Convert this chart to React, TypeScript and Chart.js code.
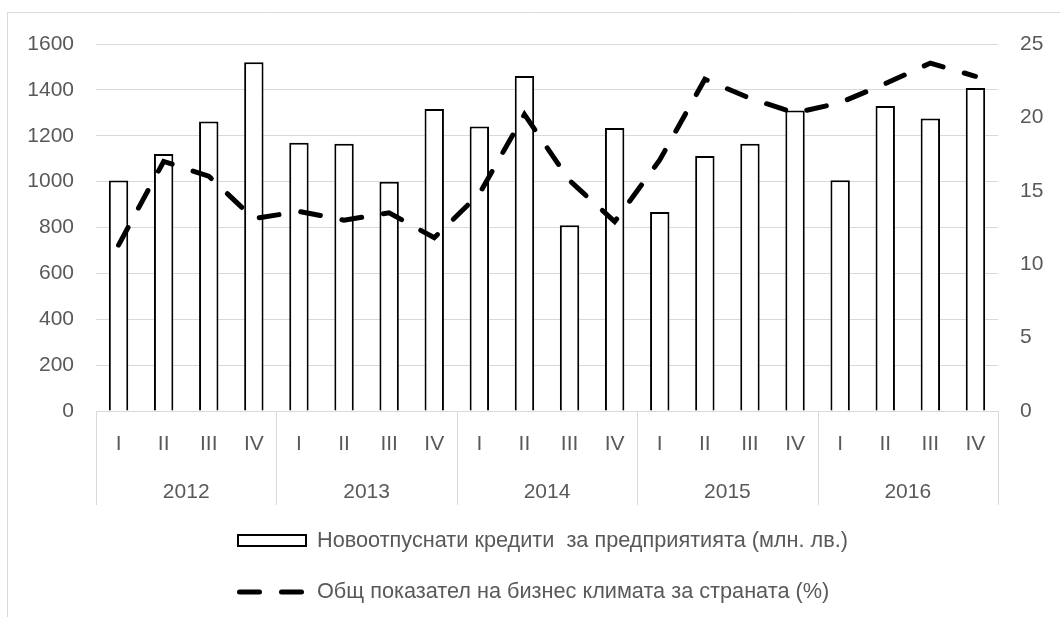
import React, { useEffect, useRef } from "react";
import { Chart, registerables } from "chart.js";

Chart.register(...registerables);

const quarters = ["I", "II", "III", "IV", "I", "II", "III", "IV", "I", "II", "III", "IV", "I", "II", "III", "IV", "I", "II", "III", "IV"];
const years = ["2012", "2013", "2014", "2015", "2016"];
const credits = [1005, 1120, 1262, 1520, 1170, 1165, 1000, 1317, 1240, 1460, 810, 1234, 868, 1112, 1165, 1310, 1006, 1330, 1275, 1408];
const climate = [11.3, 17.0, 16.0, 13.1, 13.6, 13.0, 13.5, 11.8, 14.8, 20.2, 15.7, 12.9, 17.1, 22.6, 21.3, 20.3, 21.0, 22.3, 23.7, 22.8];
const creditsLabel = "Новоотпуснати кредити  за предприятията (млн. лв.)";
const climateLabel = "Общ показател на бизнес климата за страната (%)";

const FONT = "'Liberation Sans', Arial, sans-serif";
const TEXT = "#595959";
const GRID = "#d9d9d9";

const decor = {
  id: "decor",
  beforeDraw(chart: any) {
    const ctx = chart.ctx;
    ctx.save();
    ctx.fillStyle = "#ffffff";
    ctx.fillRect(0, 0, chart.width, chart.height);
    ctx.strokeStyle = GRID;
    ctx.lineWidth = 1;
    ctx.beginPath();
    ctx.moveTo(7.5, chart.height);
    ctx.lineTo(7.5, 12.5);
    ctx.lineTo(chart.width, 12.5);
    ctx.stroke();
    ctx.restore();
  },
  afterDraw(chart: any) {
    const ctx = chart.ctx;
    const x = chart.scales.x;
    const area = chart.chartArea;
    const half = (x.getPixelForValue(1) - x.getPixelForValue(0)) / 2;
    ctx.save();
    ctx.strokeStyle = GRID;
    ctx.lineWidth = 1;
    const bounds: number[] = [];
    for (let k = 0; k <= years.length; k++) {
      const px = k < years.length ? x.getPixelForValue(k * 4) - half : area.right;
      bounds.push(px);
      const rx = Math.round(px) + 0.5;
      ctx.beginPath();
      ctx.moveTo(rx, area.bottom);
      ctx.lineTo(rx, area.bottom + 94);
      ctx.stroke();
    }
    ctx.fillStyle = TEXT;
    ctx.font = `21px ${FONT}`;
    ctx.textAlign = "center";
    ctx.textBaseline = "middle";
    years.forEach((y, i) => {
      ctx.fillText(y, (bounds[i] + bounds[i + 1]) / 2, area.bottom + 81);
    });
    // legend
    ctx.fillStyle = "#ffffff";
    ctx.strokeStyle = "#000000";
    ctx.lineWidth = 2;
    ctx.fillRect(238, 535, 68, 11);
    ctx.strokeRect(238, 535, 68, 11);
    ctx.beginPath();
    ctx.lineWidth = 5;
    ctx.lineCap = "round";
    ctx.setLineDash([20, 22]);
    ctx.moveTo(239.5, 592);
    ctx.lineTo(304.5, 592);
    ctx.stroke();
    ctx.setLineDash([]);
    ctx.fillStyle = TEXT;
    ctx.textAlign = "left";
    ctx.font = `21.7px ${FONT}`;
    ctx.fillText(creditsLabel, 317, 541);
    ctx.fillText(climateLabel, 317, 592);
    ctx.restore();
  },
};

export default function App() {
  const ref = useRef<HTMLCanvasElement>(null);
  useEffect(() => {
    if (!ref.current) return;
    const plain = (v: any) => String(v);
    const chart = new Chart(ref.current, {
      type: "bar",
      data: {
        labels: quarters,
        datasets: [
          {
            type: "line",
            label: climateLabel,
            data: climate,
            yAxisID: "y1",
            borderColor: "#000000",
            borderWidth: 5,
            borderDash: [20, 22],
            borderCapStyle: "round",
            pointRadius: 0,
            tension: 0,
            fill: false,
            order: 0,
          } as any,
          {
            type: "bar",
            label: creditsLabel,
            data: credits,
            yAxisID: "y",
            backgroundColor: "#ffffff",
            borderColor: "#000000",
            borderWidth: 2,
            barPercentage: 0.43,
            categoryPercentage: 1,
            order: 1,
          },
        ],
      },
      options: {
        responsive: false,
        animation: false,
        devicePixelRatio: 1,
        layout: { padding: { top: 44, left: 0, right: 0, bottom: 0 } },
        plugins: { legend: { display: false }, tooltip: { enabled: false } },
        scales: {
          x: {
            type: "category",
            offset: true,
            grid: { display: false, drawTicks: false },
            border: { display: true, color: GRID, width: 1 },
            ticks: { color: TEXT, font: { family: FONT, size: 21 }, padding: 21, maxRotation: 0, autoSkip: false },
            afterFit(s: any) {
              s.height = 206;
            },
          },
          y: {
            position: "left",
            min: 0,
            max: 1600,
            ticks: { stepSize: 200, color: TEXT, font: { family: FONT, size: 21 }, padding: 22, callback: plain },
            grid: { color: GRID, lineWidth: 1, drawTicks: false },
            border: { display: false },
            afterFit(s: any) {
              s.width = 96;
            },
          },
          y1: {
            position: "right",
            min: 0,
            max: 25,
            ticks: { stepSize: 5, color: TEXT, font: { family: FONT, size: 21 }, padding: 22, callback: plain },
            grid: { display: false, drawTicks: false },
            border: { display: false },
            afterFit(s: any) {
              s.width = 62;
            },
          },
        },
      },
      plugins: [decor],
    } as any);
    return () => chart.destroy();
  }, []);
  return (
    <div style={{ position: "absolute", left: 0, top: 0, width: 1060, height: 617 }}>
      <canvas ref={ref} width={1060} height={617} style={{ width: 1060, height: 617 }} />
    </div>
  );
}
